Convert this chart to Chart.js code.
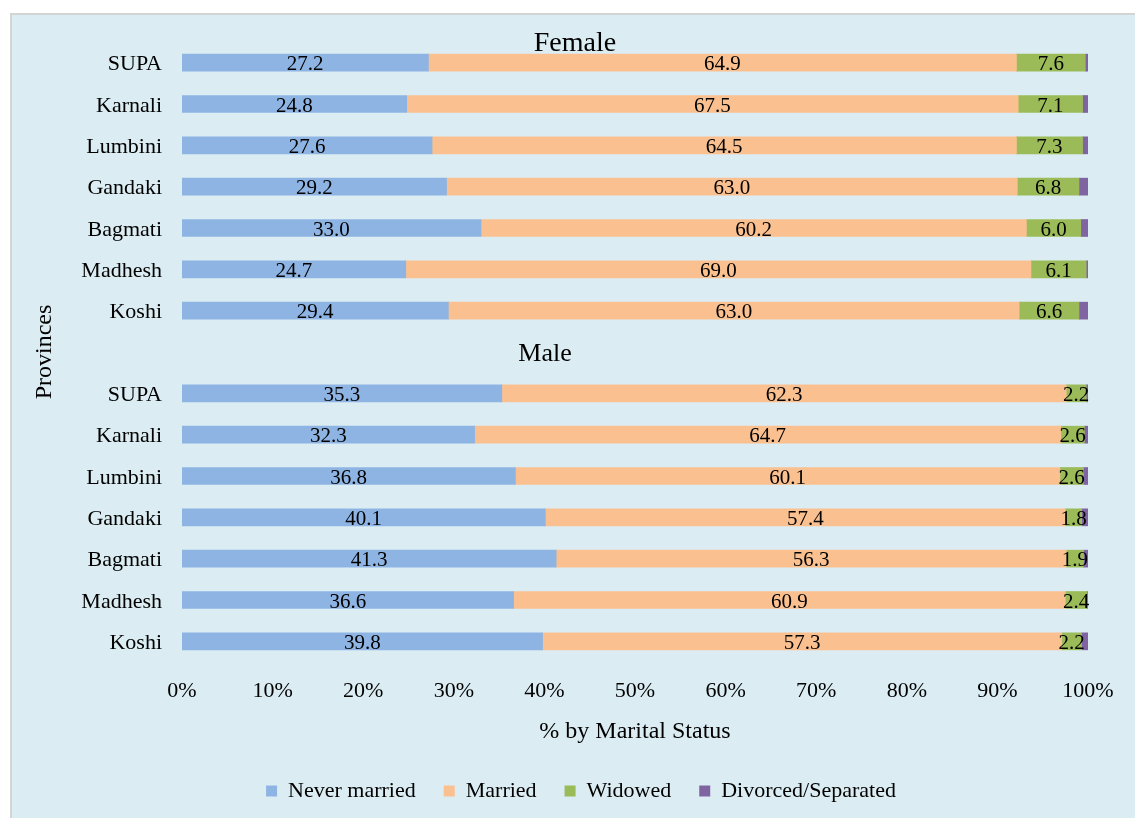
<!DOCTYPE html>
<html>
<head>
<meta charset="utf-8">
<script src="https://cdn.jsdelivr.net/npm/chart.js@4/dist/chart.umd.min.js"></script>
<style>
    body { margin: 0; background: #ffffff; }
    #wrap { width: 1135px; height: 818px; }
</style>
</head>
<body>
<div id="wrap"><canvas id="maritalChart" width="1135" height="818"></canvas></div>
<script>
const provinces = ['SUPA', 'Karnali', 'Lumbini', 'Gandaki', 'Bagmati', 'Madhesh', 'Koshi'];
const groupTitles = ['Female', 'Male'];
const statusNames = ['Never married', 'Married', 'Widowed', 'Divorced/Separated'];
const statusColors = ['#8eb4e3', '#fac090', '#9bbb59', '#8064a2'];

const femaleNeverMarried = [27.2, 24.8, 27.6, 29.2, 33.0, 24.7, 29.4];
const femaleMarried = [64.9, 67.5, 64.5, 63.0, 60.2, 69.0, 63.0];
const femaleWidowed = [7.6, 7.1, 7.3, 6.8, 6.0, 6.1, 6.6];
const femaleDivorced = [0.3, 0.6, 0.6, 1.0, 0.8, 0.2, 1.0];

const maleNeverMarried = [35.3, 32.3, 36.8, 40.1, 41.3, 36.6, 39.8];
const maleMarried = [62.3, 64.7, 60.1, 57.4, 56.3, 60.9, 57.3];
const maleWidowed = [2.2, 2.6, 2.6, 1.8, 1.9, 2.4, 2.2];
const maleDivorced = [0.2, 0.4, 0.5, 0.7, 0.5, 0.1, 0.7];

const xTicks = [0, 10, 20, 30, 40, 50, 60, 70, 80, 90, 100];

const fontName = "'Liberation Serif', 'DejaVu Serif', serif";

// one empty row between the two groups holds the "Male" heading
const labels = provinces.concat([''], provinces);
const join = (f, m) => f.concat([null], m);

const seriesData = [
    join(femaleNeverMarried, maleNeverMarried),
    join(femaleMarried, maleMarried),
    join(femaleWidowed, maleWidowed),
    join(femaleDivorced, maleDivorced)
];

const datasets = statusNames.map((name, i) => ({
    label: name,
    data: seriesData[i],
    backgroundColor: statusColors[i],
    borderWidth: 0,
    barThickness: 17
}));

const backgroundPlugin = {
    id: 'backgroundBox',
    beforeDraw(chart) {
        const ctx = chart.ctx;
        ctx.save();
        ctx.fillStyle = '#ffffff';
        ctx.fillRect(0, 0, chart.width, chart.height);
        ctx.fillStyle = '#dbedf3';
        ctx.fillRect(10, 13, chart.width - 10, chart.height - 13);
        ctx.strokeStyle = '#d4d4d4';
        ctx.lineWidth = 2;
        ctx.strokeRect(11, 14, chart.width - 10, chart.height - 12);
        ctx.restore();
    }
};

// legend in the original sits a bit right of centre
const legendShiftPlugin = {
    id: 'legendShift',
    afterLayout(chart) {
        chart.legend.left += 24;
        chart.legend.right += 24;
    }
};

const valueLabelPlugin = {
    id: 'valueLabels',
    afterDatasetsDraw(chart) {
        const ctx = chart.ctx;
        ctx.save();
        ctx.font = '21px ' + fontName;
        ctx.fillStyle = '#000000';
        ctx.textAlign = 'center';
        ctx.textBaseline = 'middle';
        for (let i = 0; i < 3; i++) {
            const meta = chart.getDatasetMeta(i);
            meta.data.forEach((bar, j) => {
                const v = chart.data.datasets[i].data[j];
                if (v === null) return;
                ctx.fillText(v.toFixed(1), (bar.x + bar.base) / 2, bar.y + 2);
            });
        }
        ctx.restore();
    }
};

const groupTitlePlugin = {
    id: 'groupTitles',
    afterDraw(chart) {
        const ctx = chart.ctx;
        const y = chart.scales.y;
        const rowHeight = y.getPixelForValue(1) - y.getPixelForValue(0);
        ctx.save();
        ctx.fillStyle = '#000000';
        ctx.textAlign = 'center';
        ctx.textBaseline = 'middle';
        ctx.font = '28px ' + fontName;
        ctx.fillText(groupTitles[0], 575, y.getPixelForValue(0) - rowHeight / 2 + 2);
        ctx.font = '26px ' + fontName;
        ctx.fillText(groupTitles[1], 545, y.getPixelForValue(provinces.length) + 2);
        ctx.restore();
    }
};

const ctx = document.getElementById('maritalChart').getContext('2d');
const maritalChart = new Chart(ctx, {
    type: 'bar',
    data: {
        labels: labels,
        datasets: datasets
    },
    options: {
        indexAxis: 'y',
        responsive: false,
        animation: false,
        layout: {
            padding: { left: 26, right: 47, top: 42, bottom: 6 }
        },
        plugins: {
            legend: {
                position: 'bottom',
                labels: {
                    boxWidth: 11,
                    boxHeight: 11,
                    padding: 28,
                    color: '#000000',
                    font: { family: fontName, size: 22 }
                }
            },
            tooltip: { enabled: false }
        },
        scales: {
            x: {
                stacked: true,
                min: 0,
                max: 100,
                afterBuildTicks: scale => {
                    scale.ticks = xTicks.map(v => ({ value: v }));
                },
                afterFit: scale => { scale.height = 90; },
                grid: { display: false, drawTicks: false },
                border: { display: false },
                ticks: {
                    padding: 16,
                    color: '#000000',
                    font: { family: fontName, size: 22 },
                    callback: v => v + '%'
                },
                title: {
                    display: true,
                    text: '% by Marital Status',
                    color: '#000000',
                    padding: { top: 0, bottom: 6 },
                    font: { family: fontName, size: 24 }
                }
            },
            y: {
                stacked: true,
                afterFit: scale => { scale.width = 182 - 26; },
                grid: { display: false, drawTicks: false },
                border: { display: false },
                ticks: {
                    padding: 20,
                    labelOffset: 2,
                    autoSkip: false,
                    color: '#000000',
                    font: { family: fontName, size: 22 }
                },
                title: {
                    display: true,
                    text: 'Provinces',
                    color: '#000000',
                    font: { family: fontName, size: 24 }
                }
            }
        }
    },
    plugins: [backgroundPlugin, legendShiftPlugin, valueLabelPlugin, groupTitlePlugin]
});
</script>
</body>
</html>
